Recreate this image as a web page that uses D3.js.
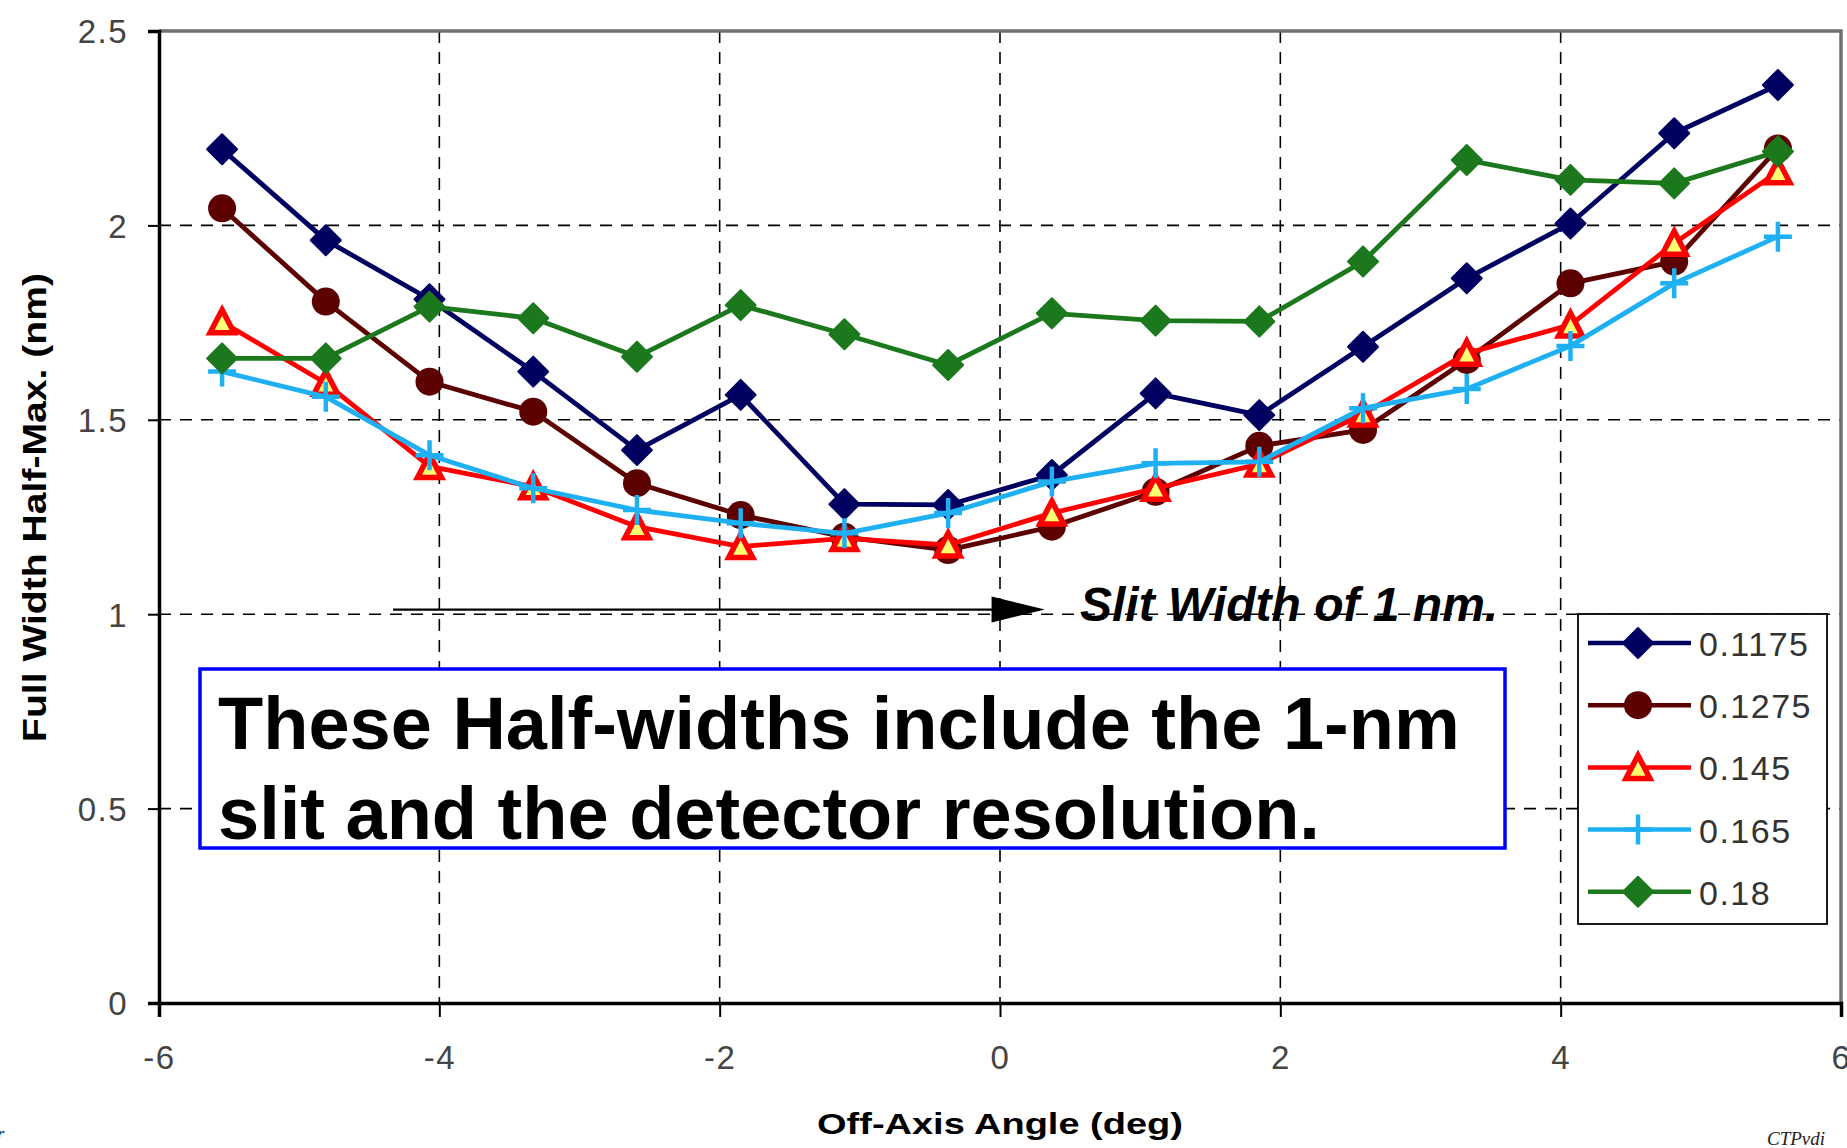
<!DOCTYPE html>
<html>
<head>
<meta charset="utf-8">
<script src="https://cdn.jsdelivr.net/npm/d3@7"></script>
<style>
  html, body { margin: 0; padding: 0; background: #fff; }
  svg { display: block; }
</style>
</head>
<body>
<script>
// ---- data ----
const angles = [-5.55, -4.81, -4.07, -3.33, -2.59, -1.85, -1.11, -0.37, 0.37, 1.11, 1.85, 2.59, 3.33, 4.07, 4.81, 5.55];
const fwhm_01175 = [2.196, 1.962, 1.81, 1.624, 1.422, 1.564, 1.283, 1.281, 1.358, 1.568, 1.512, 1.688, 1.864, 2.005, 2.237, 2.361];
const fwhm_01275 = [2.044, 1.804, 1.598, 1.521, 1.337, 1.255, 1.199, 1.165, 1.225, 1.315, 1.433, 1.474, 1.654, 1.851, 1.907, 2.198];
const fwhm_0145  = [1.752, 1.594, 1.38, 1.328, 1.225, 1.174, 1.195, 1.178, 1.26, 1.324, 1.386, 1.515, 1.671, 1.744, 1.954, 2.138];
const fwhm_0165  = [1.624, 1.559, 1.409, 1.324, 1.268, 1.234, 1.208, 1.26, 1.341, 1.388, 1.392, 1.53, 1.579, 1.69, 1.851, 1.971];
const fwhm_018   = [1.658, 1.658, 1.791, 1.761, 1.662, 1.795, 1.72, 1.641, 1.774, 1.755, 1.753, 1.907, 2.168, 2.117, 2.108, 2.19];
const seriesNames = ["0.1175", "0.1275", "0.145", "0.165", "0.18"];
const xTickValues = [-6, -4, -2, 0, 2, 4, 6];
const xTickLabels = ["-6", "-4", "-2", "0", "2", "4", "6"];
const yTickValues = [0, 0.5, 1, 1.5, 2, 2.5];
const yTickLabels = ["0", "0.5", "1", "1.5", "2", "2.5"];
const xTitle = "Off-Axis Angle (deg)";
const yTitle = "Full Width Half-Max. (nm)";
const slitNote = "Slit Width of 1 nm.";
const boxLines = ["These Half-widths include the 1-nm", "slit and the detector resolution."];

// ---- styles ----
const styles = [
  { color: "#000060", marker: "diamond" },
  { color: "#5c0000", marker: "circle" },
  { color: "#ff0000", marker: "triangle" },
  { color: "#1eb0f2", marker: "plus" },
  { color: "#1c781c", marker: "diamond" }
];
const allSeries = [fwhm_01175, fwhm_01275, fwhm_0145, fwhm_0165, fwhm_018];

const W = 1847, H = 1148;
const L = 159, R = 1841, T = 31, B = 1003;
const svg = d3.select("body").append("svg").attr("width", W).attr("height", H);
const x = d3.scaleLinear().domain([-6, 6]).range([L, R]);
const y = d3.scaleLinear().domain([0, 2.5]).range([B, T]);
const sans = "'Liberation Sans', Arial, sans-serif";

// grid
const grid = svg.append("g");
[-4, -2, 0, 2, 4].forEach(v => grid.append("line")
  .attr("x1", x(v)).attr("x2", x(v)).attr("y1", T).attr("y2", B)
  .attr("stroke", "#000").attr("stroke-width", 1.6).attr("stroke-dasharray", "12,9"));
[0.5, 1, 1.5, 2].forEach(v => grid.append("line")
  .attr("x1", L).attr("x2", R).attr("y1", y(v)).attr("y2", y(v))
  .attr("stroke", "#000").attr("stroke-width", 1.6).attr("stroke-dasharray", "12,9"));

// top/right frame
svg.append("path").attr("d", `M${L},${T}H${R}V${B}`)
  .attr("fill", "none").attr("stroke", "#707070").attr("stroke-width", 3.5);

// axes
const yAxis = svg.append("g").attr("transform", `translate(${L},0)`)
  .call(d3.axisLeft(y).tickValues(yTickValues).tickSize(11).tickPadding(20)
    .tickFormat((d, i) => yTickLabels[i]));
const xAxis = svg.append("g").attr("transform", `translate(0,${B})`)
  .call(d3.axisBottom(x).tickValues(xTickValues).tickSize(14).tickPadding(28)
    .tickFormat((d, i) => xTickLabels[i]));
[yAxis, xAxis].forEach(g => {
  g.select(".domain").attr("stroke", "#000").attr("stroke-width", 3.5);
  g.selectAll(".tick line").attr("stroke", "#000").attr("stroke-width", 2);
  g.selectAll(".tick text").attr("font-family", sans).attr("font-size", 33)
    .attr("fill", "#444").attr("letter-spacing", 1.5);
});
yAxis.selectAll(".tick text").attr("dy", "0.36em");
xAxis.selectAll(".tick text").attr("dy", "0.72em");

// marker drawing
function drawMarker(g, type, color, cx, cy) {
  if (type === "diamond") {
    g.append("path").attr("d", "M0,-15L15,0L0,15L-15,0Z")
      .attr("transform", `translate(${cx},${cy})`).attr("fill", color)
      .attr("stroke", color).attr("stroke-width", 2).attr("stroke-linejoin", "round");
  } else if (type === "circle") {
    g.append("circle").attr("cx", cx).attr("cy", cy).attr("r", 14).attr("fill", color);
  } else if (type === "triangle") {
    g.append("path").attr("d", "M0,-12L12,11L-12,11Z")
      .attr("transform", `translate(${cx},${cy})`).attr("fill", "#ffff70")
      .attr("stroke", color).attr("stroke-width", 5.5).attr("stroke-linejoin", "miter");
  } else if (type === "plus") {
    g.append("path").attr("d", "M-14,0H14M0,-15V15")
      .attr("transform", `translate(${cx},${cy})`).attr("fill", "none")
      .attr("stroke", color).attr("stroke-width", 4.5);
  }
}

// series
const line = d3.line().x(d => x(d[0])).y(d => y(d[1]));
allSeries.forEach((vals, si) => {
  const g = svg.append("g");
  const pts = angles.map((a, i) => [a, vals[i]]);
  g.append("path").attr("d", line(pts)).attr("fill", "none")
    .attr("stroke", styles[si].color).attr("stroke-width", 4.8).attr("stroke-linejoin", "round");
  pts.forEach(p => drawMarker(g, styles[si].marker, styles[si].color, x(p[0]), y(p[1])));
});

// slit-width arrow and note
const ay = y(1.012);
svg.append("line").attr("x1", x(-4.33)).attr("x2", x(-0.05)).attr("y1", ay).attr("y2", ay)
  .attr("stroke", "#000").attr("stroke-width", 2.2);
svg.append("path")
  .attr("d", `M${x(-0.06)},${ay - 13}L${x(0.32)},${ay}L${x(-0.06)},${ay + 13}Z`)
  .attr("fill", "#000");
svg.append("text").attr("x", 1080).attr("y", 621).text(slitNote)
  .attr("font-family", sans).attr("font-size", 48).attr("font-weight", "bold")
  .attr("font-style", "italic").attr("fill", "#000");

// annotation box
svg.append("rect").attr("x", 200).attr("y", 669).attr("width", 1305).attr("height", 179)
  .attr("fill", "#fff").attr("stroke", "#0000ff").attr("stroke-width", 3.5);
boxLines.forEach((t, i) => svg.append("text").attr("x", 218).attr("y", 749 + i * 90).text(t)
  .attr("font-family", sans).attr("font-size", 74).attr("font-weight", "bold").attr("fill", "#000"));

// legend
const lg = svg.append("g");
lg.append("rect").attr("x", 1578).attr("y", 614).attr("width", 249).attr("height", 310)
  .attr("fill", "#fff").attr("stroke", "#000").attr("stroke-width", 1.8);
seriesNames.forEach((n, i) => {
  const ly = 643 + i * 62.2;
  lg.append("line").attr("x1", 1588).attr("x2", 1691).attr("y1", ly).attr("y2", ly)
    .attr("stroke", styles[i].color).attr("stroke-width", 4.5);
  drawMarker(lg, styles[i].marker, styles[i].color, 1638, ly);
  lg.append("text").attr("x", 1699).attr("y", ly + 13).text(n)
    .attr("font-family", sans).attr("font-size", 34).attr("fill", "#333").attr("letter-spacing", 1.5);
});

// axis titles
svg.append("text").attr("x", 817).attr("y", 1134).text(xTitle)
  .attr("font-family", sans).attr("font-size", 29).attr("font-weight", "bold")
  .attr("textLength", 366).attr("lengthAdjust", "spacingAndGlyphs").attr("fill", "#000");
svg.append("text").attr("transform", "translate(46,742) rotate(-90)").text(yTitle)
  .attr("font-family", sans).attr("font-size", 33).attr("font-weight", "bold")
  .attr("textLength", 469).attr("lengthAdjust", "spacingAndGlyphs").attr("fill", "#000");

// corner fragments
svg.append("text").attr("x", 1767).attr("y", 1145).text("CTPvdi")
  .attr("font-family", "'Liberation Serif', serif").attr("font-style", "italic")
  .attr("font-size", 19).attr("fill", "#222");
svg.append("text").attr("x", -3).attr("y", 1140).text("r")
  .attr("font-family", "'Liberation Serif', serif").attr("font-style", "italic")
  .attr("font-size", 19).attr("fill", "#222");
</script>
</body>
</html>
